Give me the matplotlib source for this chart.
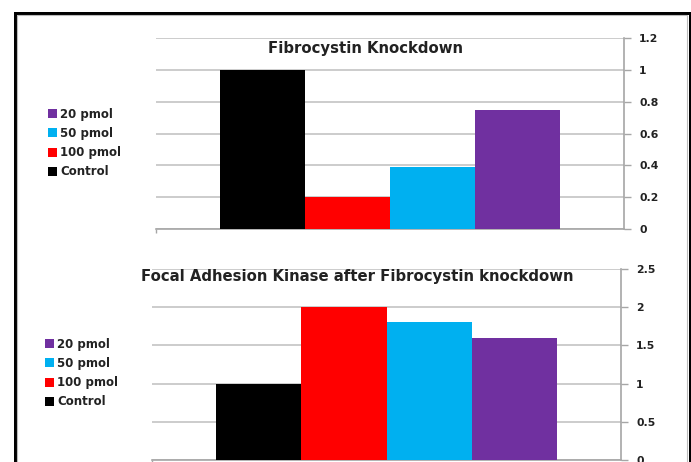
import matplotlib
matplotlib.use("Agg")
import matplotlib.pyplot as plt
from matplotlib.patches import Rectangle

# ---- data ----
series = ["Control", "100 pmol", "50 pmol", "20 pmol"]
colors = ["#000000", "#FF0000", "#00B0F0", "#7030A0"]
fibrocystin = [1.0, 0.2, 0.39, 0.745]
fak = [1.0, 2.0, 1.8, 1.6]

top_title = "Fibrocystin Knockdown"
bottom_title = "Focal Adhesion Kinase after Fibrocystin knockdown"
top_ticks = [0, 0.2, 0.4, 0.6, 0.8, 1, 1.2]
top_ticklabels = ["0", "0.2", "0.4", "0.6", "0.8", "1", "1.2"]
bottom_ticks = [0, 0.5, 1, 1.5, 2, 2.5]
bottom_ticklabels = ["0", "0.5", "1", "1.5", "2", "2.5"]

W, H = 691, 462
fig = plt.figure(figsize=(W / 100, H / 100), dpi=100)
fig.patch.set_facecolor("white")

GRID = "#C4C4C4"
AXIS = "#A6A6A6"
TEXT = "#222222"
FONT = "DejaVu Sans"


def px_axes(x0, x1, ytop, ybot):
    return fig.add_axes([x0 / W, 1 - ybot / H, (x1 - x0) / W, (ybot - ytop) / H])


def draw_panel(ax, values, ticks, ticklabels, ymax):
    offsets = [-1.5, -0.5, 0.5, 1.5]
    bars = []
    for off, v, c, name in zip(offsets, values, colors, series):
        b = ax.bar(off, v, width=1.0, color=c, label=name, zorder=3, linewidth=0)
        bars.append(b)
    half = 2.755
    ax.set_xlim(-half, half)
    ax.set_ylim(0, ymax)
    ax.yaxis.tick_right()
    ax.set_yticks(ticks)
    ax.set_yticklabels(ticklabels, fontsize=7.8, fontweight="bold",
                       color=TEXT, family=FONT)
    ax.tick_params(axis="y", direction="out", length=5, width=1, color=AXIS, pad=6)
    ax.set_xticks([-half])
    ax.set_xticklabels([])
    ax.tick_params(axis="x", direction="out", length=3, width=1, color=AXIS)
    ax.grid(axis="y", color=GRID, linewidth=1.2, zorder=0)
    for s in ["left", "top"]:
        ax.spines[s].set_visible(False)
    ax.spines["right"].set_color(AXIS)
    ax.spines["bottom"].set_color(AXIS)
    ax.spines["right"].set_linewidth(1.2)
    ax.spines["bottom"].set_linewidth(1.2)
    ax.set_facecolor("none")
    return bars


def draw_legend(bars, x, y):
    handles = [bars[i] for i in (3, 2, 1, 0)]
    labels = [series[i] for i in (3, 2, 1, 0)]
    fig.legend(handles, labels, loc="upper left",
               bbox_to_anchor=(x / W, 1 - y / H),
               frameon=False, handlelength=0.8, handleheight=0.8,
               handletextpad=0.25, labelspacing=0.52, borderpad=0,
               prop={"family": FONT, "size": 8.5, "weight": "bold"},
               labelcolor=TEXT)


ax1 = px_axes(156, 624, 38, 229)
bars1 = draw_panel(ax1, fibrocystin, top_ticks, top_ticklabels, 1.2)
fig.text(365.5 / W, 1 - 49 / H, top_title, ha="center", va="center",
         fontsize=10.7, fontweight="bold", color=TEXT, family=FONT)
draw_legend(bars1, 42, 102)

ax2 = px_axes(152, 621, 269, 460)
bars2 = draw_panel(ax2, fak, bottom_ticks, bottom_ticklabels, 2.5)
fig.text(357 / W, 1 - 277 / H, bottom_title, ha="center", va="center",
         fontsize=10.7, fontweight="bold", color=TEXT, family=FONT)
draw_legend(bars2, 39, 332)

# outer frame: thick black border with thin grey inner rule
fig.add_artist(Rectangle((14.5 / W, -0.2), (689.5 - 14.5) / W, (1 - 12.5 / H) + 0.2,
                         transform=fig.transFigure, fill=False,
                         edgecolor="black", linewidth=3 * 0.72, zorder=10))
fig.add_artist(Rectangle((17 / W, -0.2), (687 - 17) / W, (1 - 15 / H) + 0.2,
                         transform=fig.transFigure, fill=False,
                         edgecolor="#BBBBBB", linewidth=0.8, zorder=10))

fig.savefig("out.png", dpi=100)
